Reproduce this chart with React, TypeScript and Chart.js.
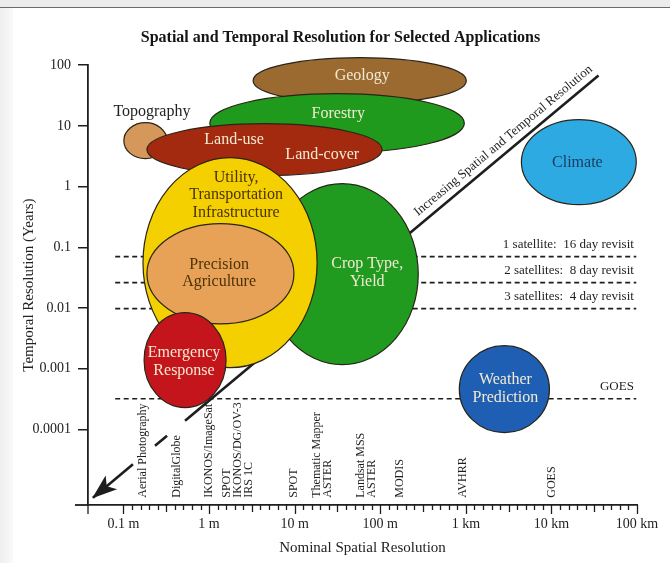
import { useEffect, useRef } from 'react';
import { Chart, registerables } from 'chart.js';

Chart.register(...registerables);

const SERIF = '"Liberation Serif", "Times New Roman", "DejaVu Serif", serif';

const CHART_TITLE = 'Spatial and Temporal Resolution for Selected Applications';
const X_AXIS_TITLE = 'Nominal Spatial Resolution';
const Y_AXIS_TITLE = 'Temporal Resolution (Years)';

const X_MIN = 0.0385;
const X_MAX = 100000;
const Y_MIN = 5.7e-6;
const Y_MAX = 100;

const X_TICK_VALUES = [0.1, 1, 10, 100, 1000, 10000, 100000];
const X_TICK_LABELS = ['0.1 m', '1 m', '10 m', '100 m', '1 km', '10 km', '100 km'];
const Y_TICK_VALUES = [100, 10, 1, 0.1, 0.01, 0.001, 0.0001];
const Y_TICK_LABELS = ['100', '10', '1', '0.1', '0.01', '0.001', '0.0001'];
const X_MINOR_PER_DECADE = 10;

// Application areas (ellipses), in drawing order (later ones on top)
const APP_NAMES = [
  'Geology', 'Forestry', 'Topography', 'Land-use / Land-cover', 'Climate',
  'Weather Prediction', 'Crop Type, Yield', 'Utility, Transportation Infrastructure',
  'Precision Agriculture', 'Emergency Response',
];
const APP_X_MIN = [3.27, 1.02, 0.101, 0.188, 4460, 839, 4.64, 0.169, 0.188, 0.174];
const APP_X_MAX = [1013, 960, 0.323, 105, 98000, 9480, 278, 18.3, 9.8, 1.58];
const APP_Y_MIN = [23.3, 3.63, 2.89, 1.52, 0.505, 0.0000886, 0.00117, 0.00104, 0.0055, 0.000229];
const APP_Y_MAX = [133, 34, 11.3, 10.9, 12.7, 0.0024, 1.12, 3.0, 0.245, 0.0084];
const APP_COLORS = [
  '#9a6a30', '#1f9a1c', '#d6975a', '#a3290f', '#2eaae2',
  '#1e5fb4', '#219b1f', '#f4d000', '#e8a257', '#c3151b',
];

// Labels written on / near the application areas
const APP_LABELS = [
  'Geology', 'Forestry', 'Topography', 'Land-use', 'Land-cover', 'Climate',
  'Crop Type,\nYield', 'Utility,\nTransportation\nInfrastructure',
  'Precision\nAgriculture', 'Emergency\nResponse', 'Weather\nPrediction',
];
const APP_LABEL_X = [61.6, 32.3, 0.215, 1.96, 21, 20100, 70.5, 2.07, 1.31, 0.51, 2897];
const APP_LABEL_Y = [67.4, 15.9, 17.2, 5.95, 3.37, 2.49, 0.0383, 0.724, 0.0375, 0.00131, 0.00047];
const APP_LABEL_COLORS = [
  '#f3ead2', '#f3ead2', '#222222', '#f3ead2', '#f3ead2', '#1d3c63',
  '#f3ead2', '#4a3208', '#4a3208', '#f3ead2', '#f3ead2',
];

// Satellite revisit reference lines
const REVISIT_LABELS = ['1 satellite:  16 day revisit', '2 satellites:  8 day revisit', '3 satellites:  4 day revisit', 'GOES'];
const REVISIT_Y = [0.0703, 0.0262, 0.00977, 0.000321];
const REVISIT_X_START = 0.08;
const REVISIT_X_END = 98000;
const REVISIT_LABEL_X = 92000;

// Diagonal "increasing resolution" arrow, drawn as broken segments
const DIAG_SEGMENT_X = [[35500, 0.524], [0.323, 0.2336], [0.129, 0.044]];
const DIAG_SEGMENT_Y = [[67.4, 0.000139], [0.0000787, 0.0000537], [0.0000267, 0.00000752]];
const DIAG_TEXT = 'Increasing Spatial and Temporal Resolution';
const DIAG_TEXT_X = 3315;
const DIAG_TEXT_Y = 4.15;

// Sensors along the bottom
const SENSOR_LABELS = [
  'Aerial Photography', 'DigitalGlobe', 'IKONOS/ImageSat', 'SPOT\nIKONOS/DG/OV-3\nIRS 1C',
  'SPOT', 'Thematic Mapper\nASTER', 'Landsat MSS\nASTER', 'MODIS', 'AVHRR', 'GOES',
];
const SENSOR_X = [0.17, 0.42, 1.0, 2.18, 9.9, 21.3, 69.5, 171, 935, 10200];
const SENSOR_BASE_Y = 0.0000075;

const INK = '#1e1e1e';

const sameDecade = (a: number, b: number) => Math.abs(Math.log10(a) - Math.log10(b)) < 1e-6;

const backdropPlugin = {
  id: 'backdrop',
  beforeDraw(chart: any) {
    const { ctx, width, height } = chart;
    ctx.save();
    ctx.fillStyle = '#ffffff';
    ctx.fillRect(0, 0, width, height);
    ctx.fillStyle = '#ececec';
    ctx.fillRect(0, 0, width, 7);
    ctx.fillStyle = '#6a6a6a';
    ctx.fillRect(0, 7, width, 1);
    const g = ctx.createLinearGradient(0, 0, 13, 0);
    g.addColorStop(0, '#efefef');
    g.addColorStop(1, '#f9f9f9');
    ctx.fillStyle = g;
    ctx.fillRect(0, 8, 13, height - 8);
    ctx.restore();
  },
};

const applicationsPlugin = {
  id: 'applications',
  afterDatasetsDraw(chart: any) {
    const { ctx } = chart;
    const xs = chart.scales.x;
    const ys = chart.scales.y;
    ctx.save();

    // arrowhead at the end of the last diagonal segment
    const arrowMeta = chart.getDatasetMeta(REVISIT_Y.length + DIAG_SEGMENT_X.length - 1);
    const pts = arrowMeta.data;
    if (pts.length >= 2) {
      const a = pts[pts.length - 2];
      const b = pts[pts.length - 1];
      const ang = Math.atan2(b.y - a.y, b.x - a.x);
      ctx.save();
      ctx.translate(b.x, b.y);
      ctx.rotate(ang);
      ctx.fillStyle = INK;
      ctx.beginPath();
      ctx.moveTo(1, 0);
      ctx.lineTo(-24, -9);
      ctx.lineTo(-18, 0);
      ctx.lineTo(-24, 9);
      ctx.closePath();
      ctx.fill();
      ctx.restore();
    }

    // ellipses
    APP_NAMES.forEach((_, i) => {
      const l = xs.getPixelForValue(APP_X_MIN[i]);
      const r = xs.getPixelForValue(APP_X_MAX[i]);
      const t = ys.getPixelForValue(APP_Y_MAX[i]);
      const btm = ys.getPixelForValue(APP_Y_MIN[i]);
      ctx.beginPath();
      ctx.ellipse((l + r) / 2, (t + btm) / 2, (r - l) / 2, (btm - t) / 2, 0, 0, Math.PI * 2);
      ctx.fillStyle = APP_COLORS[i];
      ctx.fill();
      ctx.lineWidth = 1.2;
      ctx.strokeStyle = '#2a2418';
      ctx.stroke();
    });

    // labels
    ctx.font = `16px ${SERIF}`;
    ctx.textAlign = 'center';
    ctx.textBaseline = 'middle';
    APP_LABELS.forEach((txt, i) => {
      const lines = txt.split('\n');
      const cx = xs.getPixelForValue(APP_LABEL_X[i]);
      const cy = ys.getPixelForValue(APP_LABEL_Y[i]);
      ctx.fillStyle = APP_LABEL_COLORS[i];
      lines.forEach((ln, j) => ctx.fillText(ln, cx, cy + (j - (lines.length - 1) / 2) * 17.5));
    });
    ctx.restore();
  },
};

const annotationsPlugin = {
  id: 'annotations',
  afterDatasetsDraw(chart: any) {
    const { ctx } = chart;
    const xs = chart.scales.x;
    const ys = chart.scales.y;
    ctx.save();
    ctx.fillStyle = INK;

    // revisit labels
    ctx.font = `13px ${SERIF}`;
    ctx.textAlign = 'right';
    ctx.textBaseline = 'middle';
    REVISIT_LABELS.forEach((txt, i) => {
      ctx.fillText(txt, xs.getPixelForValue(REVISIT_LABEL_X), ys.getPixelForValue(REVISIT_Y[i]) - 12);
    });

    // diagonal text
    const segMeta = chart.getDatasetMeta(REVISIT_Y.length);
    const p0 = segMeta.data[0];
    const p1 = segMeta.data[1];
    if (p0 && p1) {
      const ang = Math.atan2(p0.y - p1.y, p0.x - p1.x);
      ctx.save();
      ctx.translate(xs.getPixelForValue(DIAG_TEXT_X), ys.getPixelForValue(DIAG_TEXT_Y));
      ctx.rotate(ang);
      ctx.textAlign = 'center';
      ctx.font = `13px ${SERIF}`;
      ctx.fillText(DIAG_TEXT, 0, -11);
      ctx.restore();
    }

    // sensor labels (vertical)
    ctx.font = `12px ${SERIF}`;
    const baseY = ys.getPixelForValue(SENSOR_BASE_Y);
    SENSOR_LABELS.forEach((txt, i) => {
      const lines = txt.split('\n');
      const cx = xs.getPixelForValue(SENSOR_X[i]);
      ctx.save();
      ctx.translate(cx, baseY);
      ctx.rotate(-Math.PI / 2);
      ctx.textAlign = 'left';
      ctx.textBaseline = 'middle';
      lines.forEach((ln, j) => ctx.fillText(ln, 0, (j - (lines.length - 1) / 2) * 11));
      ctx.restore();
    });
    ctx.restore();
  },
};

const axisTicksPlugin = {
  id: 'axisTicks',
  afterDraw(chart: any) {
    const { ctx, chartArea } = chart;
    const xs = chart.scales.x;
    ctx.save();
    ctx.strokeStyle = INK;
    ctx.lineWidth = 1.3;
    ctx.beginPath();
    xs.ticks.forEach((t: any) => {
      const lg = Math.log10(t.value);
      const k = ((Math.round((lg - Math.floor(lg + 1e-9)) * X_MINOR_PER_DECADE) % X_MINOR_PER_DECADE) + X_MINOR_PER_DECADE) % X_MINOR_PER_DECADE;
      const len = k === 0 ? 9 : k === X_MINOR_PER_DECADE / 2 ? 7 : 5;
      const px = Math.round(xs.getPixelForValue(t.value)) + 0.5;
      ctx.moveTo(px, chartArea.bottom);
      ctx.lineTo(px, chartArea.bottom + len);
    });
    // axis continuation below / left of the origin
    ctx.moveTo(chartArea.left, chartArea.bottom);
    ctx.lineTo(chartArea.left, chartArea.bottom + 9);
    ctx.stroke();
    ctx.lineWidth = 1.8;
    ctx.beginPath();
    ctx.moveTo(chartArea.left - 13, chartArea.bottom);
    ctx.lineTo(chartArea.left, chartArea.bottom);
    ctx.stroke();
    ctx.restore();
  },
};

export default function App() {
  const ref = useRef<HTMLCanvasElement | null>(null);

  useEffect(() => {
    document.body.style.margin = '0';
    const canvas = ref.current;
    if (!canvas) return;

    const revisitSets = REVISIT_Y.map((yv, i) => ({
      label: REVISIT_LABELS[i],
      data: [{ x: REVISIT_X_START, y: yv }, { x: REVISIT_X_END, y: yv }],
      showLine: true,
      borderColor: INK,
      borderWidth: 1.6,
      borderDash: [5, 3.5],
      pointRadius: 0,
    }));
    const diagSets = DIAG_SEGMENT_X.map((xsArr, i) => ({
      label: 'diagonal ' + i,
      data: xsArr.map((xv, j) => ({ x: xv, y: DIAG_SEGMENT_Y[i][j] })),
      showLine: true,
      borderColor: INK,
      borderWidth: 2.6,
      pointRadius: 0,
    }));

    const chart = new Chart(canvas, {
      type: 'scatter',
      data: { datasets: [...revisitSets, ...diagSets] as any },
      plugins: [backdropPlugin, applicationsPlugin, annotationsPlugin, axisTicksPlugin],
      options: {
        animation: false,
        responsive: false,
        events: [],
        layout: { padding: { left: 11, right: 0, top: 0, bottom: 0 } },
        plugins: {
          legend: { display: false },
          tooltip: { enabled: false },
          title: {
            display: true,
            text: CHART_TITLE,
            color: '#151515',
            font: { family: SERIF, size: 16, weight: 'bold' },
            padding: { top: 28, bottom: 18 },
          },
        },
        scales: {
          x: {
            type: 'logarithmic',
            position: 'bottom',
            min: X_MIN,
            max: X_MAX,
            afterBuildTicks: (scale: any) => {
              const e0 = Math.round(Math.log10(X_TICK_VALUES[0]));
              const e1 = Math.round(Math.log10(X_TICK_VALUES[X_TICK_VALUES.length - 1]));
              const ticks: any[] = [];
              for (let e = e0; e <= e1; e++) {
                for (let k = 0; k < X_MINOR_PER_DECADE; k++) {
                  if (e === e1 && k > 0) break;
                  ticks.push({ value: Math.pow(10, e + k / X_MINOR_PER_DECADE) });
                }
              }
              scale.ticks = ticks;
            },
            afterFit: (scale: any) => { scale.height = 58; },
            grid: { display: false, drawTicks: true, tickLength: 9 },
            border: { display: true, color: INK, width: 1.8 },
            ticks: {
              autoSkip: false,
              maxRotation: 0,
              minRotation: 0,
              padding: 2,
              color: '#222',
              font: { family: SERIF, size: 14 },
              callback: (value: any) => {
                const i = X_TICK_VALUES.findIndex((v) => sameDecade(v, Number(value)));
                return i >= 0 ? X_TICK_LABELS[i] : '';
              },
            },
            title: {
              display: true,
              text: X_AXIS_TITLE,
              color: '#222',
              font: { family: SERIF, size: 15 },
              padding: { top: 0, bottom: 6 },
            },
          },
          y: {
            type: 'logarithmic',
            position: 'left',
            min: Y_MIN,
            max: Y_MAX,
            afterBuildTicks: (scale: any) => {
              scale.ticks = Y_TICK_VALUES.map((v) => ({ value: v }));
            },
            afterFit: (scale: any) => { scale.width = 77; },
            grid: { display: true, drawOnChartArea: false, drawTicks: true, tickLength: 10, color: INK, lineWidth: 1.5 },
            border: { display: true, color: INK, width: 1.8 },
            ticks: {
              autoSkip: false,
              padding: 7,
              color: '#222',
              font: { family: SERIF, size: 14 },
              callback: (value: any) => {
                const i = Y_TICK_VALUES.findIndex((v) => sameDecade(v, Number(value)));
                return i >= 0 ? Y_TICK_LABELS[i] : '';
              },
            },
            title: {
              display: true,
              text: Y_AXIS_TITLE,
              color: '#222',
              font: { family: SERIF, size: 15 },
              padding: { top: 9, bottom: 0 },
            },
          },
          rightPad: {
            type: 'linear',
            position: 'right',
            display: true,
            grid: { display: false, drawTicks: false },
            border: { display: false },
            ticks: { display: false },
            afterFit: (scale: any) => { scale.width = 33; },
          },
        },
      } as any,
    });

    return () => chart.destroy();
  }, []);

  return (
    <div style={{ width: 670, height: 563 }}>
      <canvas ref={ref} width={670} height={563} style={{ display: 'block' }} />
    </div>
  );
}
